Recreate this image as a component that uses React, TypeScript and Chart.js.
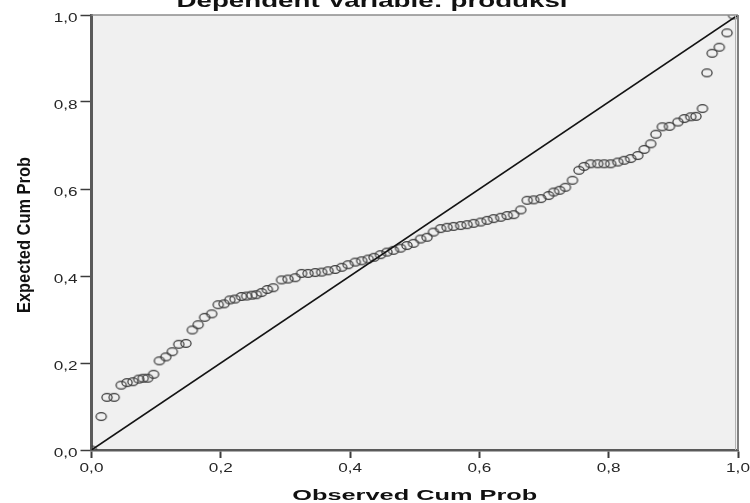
import React, { useEffect, useRef } from "react";
import { Chart, registerables } from "chart.js";

Chart.register(...registerables);

// Observed cumulative probability (x)
const OBSERVED = [
  0.000, 0.015, 0.024, 0.035, 0.046, 0.055, 0.064, 0.073, 0.080, 0.087,
  0.096, 0.105, 0.115, 0.125, 0.135, 0.146, 0.156, 0.165, 0.175, 0.186,
  0.196, 0.205, 0.214, 0.222, 0.232, 0.240, 0.248, 0.255, 0.263, 0.272,
  0.281, 0.294, 0.304, 0.315, 0.325, 0.335, 0.346, 0.356, 0.366, 0.377,
  0.387, 0.397, 0.408, 0.418, 0.428, 0.437, 0.447, 0.457, 0.467, 0.478,
  0.488, 0.498, 0.509, 0.519, 0.529, 0.540, 0.550, 0.560, 0.571, 0.581,
  0.591, 0.602, 0.612, 0.622, 0.633, 0.643, 0.653, 0.664, 0.674, 0.684,
  0.695, 0.707, 0.715, 0.724, 0.733, 0.744, 0.754, 0.762, 0.772, 0.783,
  0.793, 0.803, 0.814, 0.824, 0.834, 0.845, 0.855, 0.865, 0.873, 0.883,
  0.894, 0.907, 0.917, 0.927, 0.935, 0.945, 0.952, 0.960, 0.971, 0.983,
  0.993,
];

// Expected cumulative probability (y)
const EXPECTED = [
  0.000, 0.077, 0.121, 0.121, 0.149, 0.155, 0.157, 0.163, 0.165, 0.165,
  0.174, 0.205, 0.214, 0.226, 0.243, 0.245, 0.276, 0.288, 0.305, 0.313,
  0.334, 0.336, 0.345, 0.347, 0.353, 0.354, 0.356, 0.357, 0.362, 0.369,
  0.373, 0.391, 0.393, 0.396, 0.406, 0.406, 0.408, 0.409, 0.412, 0.415,
  0.420, 0.426, 0.432, 0.435, 0.439, 0.443, 0.449, 0.455, 0.459, 0.464,
  0.470, 0.475, 0.485, 0.489, 0.501, 0.509, 0.512, 0.514, 0.516, 0.518,
  0.521, 0.524, 0.528, 0.532, 0.535, 0.539, 0.541, 0.552, 0.574, 0.575,
  0.578, 0.585, 0.593, 0.597, 0.604, 0.620, 0.643, 0.652, 0.658, 0.658,
  0.658, 0.658, 0.662, 0.666, 0.670, 0.677, 0.691, 0.704, 0.726, 0.743,
  0.744, 0.754, 0.762, 0.766, 0.767, 0.785, 0.867, 0.912, 0.926, 0.959,
  1.000,
];

// Reference diagonal
const DIAGONAL_X = [0, 1];
const DIAGONAL_Y = [0, 1];

const TICK_VALUES = [0, 0.2, 0.4, 0.6, 0.8, 1.0];
const X_TICK_LABELS = ["0,0", "0,2", "0,4", "0,6", "0,8", "1,0"];
const Y_TICK_LABELS = ["0,0", "0,2", "0,4", "0,6", "0,8", "1,0"];

const TITLE = "Dependent Variable: produksi";
const X_TITLE = "Observed Cum Prob";
const Y_TITLE = "Expected Cum Prob";

function makeMarker(): HTMLCanvasElement {
  const c = document.createElement("canvas");
  c.width = 14;
  c.height = 11;
  const g = c.getContext("2d")!;
  g.strokeStyle = "#3a3a3a";
  g.lineWidth = 1.25;
  g.beginPath();
  g.ellipse(7, 5.5, 5.1, 3.8, 0, 0, Math.PI * 2);
  g.stroke();
  return c;
}

function stretchedText(
  ctx: CanvasRenderingContext2D,
  text: string,
  x: number,
  y: number,
  font: string,
  align: CanvasTextAlign,
  baseline: CanvasTextBaseline,
  targetWidth: number | null,
  sx: number,
  color: string
) {
  ctx.save();
  ctx.font = font;
  const w = ctx.measureText(text).width;
  const scale = targetWidth ? targetWidth / w : sx;
  ctx.translate(x, y);
  ctx.scale(scale, 1);
  ctx.textAlign = align;
  ctx.textBaseline = baseline;
  ctx.fillStyle = color;
  ctx.fillText(text, 0, 0);
  ctx.restore();
}

export default function App() {
  const ref = useRef<HTMLCanvasElement>(null);

  useEffect(() => {
    document.body.style.margin = "0";
    const canvas = ref.current!;
    const marker = makeMarker();

    const decor = {
      id: "decor",
      beforeDraw(chart: any) {
        const { ctx, chartArea: a } = chart;
        ctx.save();
        ctx.fillStyle = "#ffffff";
        ctx.fillRect(0, 0, chart.width, chart.height);
        ctx.fillStyle = "#f0f0f0";
        ctx.fillRect(a.left, a.top, a.right - a.left, a.bottom - a.top);
        ctx.restore();
      },
      afterDraw(chart: any) {
        const { ctx, chartArea: a } = chart;
        const xs = chart.scales.x;
        const ys = chart.scales.y;
        ctx.save();
        // top border
        ctx.strokeStyle = "#8c8c8c";
        ctx.lineWidth = 1.5;
        ctx.beginPath();
        ctx.moveTo(a.left, a.top);
        ctx.lineTo(a.right, a.top);
        ctx.stroke();
        // right border (double gray)
        ctx.strokeStyle = "#b4b4b4";
        ctx.lineWidth = 1;
        ctx.beginPath();
        ctx.moveTo(a.right - 2.5, a.top);
        ctx.lineTo(a.right - 2.5, a.bottom);
        ctx.stroke();
        ctx.strokeStyle = "#808080";
        ctx.lineWidth = 2;
        ctx.beginPath();
        ctx.moveTo(a.right, a.top);
        ctx.lineTo(a.right, a.bottom);
        ctx.stroke();
        ctx.restore();

        const tickFont = '13px "Liberation Sans", Arial, sans-serif';
        TICK_VALUES.forEach((v, i) => {
          const px = xs.getPixelForValue(v);
          stretchedText(ctx, X_TICK_LABELS[i], px, a.bottom + 21.5, tickFont, "center", "alphabetic", null, 1.32, "#262626");
        });
        TICK_VALUES.forEach((v, i) => {
          const py = ys.getPixelForValue(v);
          stretchedText(ctx, Y_TICK_LABELS[i], a.left - 14, py + 7, tickFont, "right", "alphabetic", null, 1.32, "#262626");
        });

        // x-axis title
        stretchedText(ctx, X_TITLE, (a.left + a.right) / 2, 500, 'bold 15px "Liberation Sans", Arial, sans-serif', "center", "alphabetic", 245, 1, "#111111");

        // main title (cut off at the top)
        stretchedText(ctx, TITLE, 372, 7, 'bold 18px "Liberation Sans", Arial, sans-serif', "center", "alphabetic", 391, 1, "#111111");

        // y-axis title (rotated, condensed)
        ctx.save();
        ctx.font = 'bold 18px "Liberation Sans", Arial, sans-serif';
        const w = ctx.measureText(Y_TITLE).width;
        ctx.translate(31, 235);
        ctx.rotate(-Math.PI / 2);
        ctx.scale(156 / w, 1);
        ctx.textAlign = "center";
        ctx.textBaseline = "alphabetic";
        ctx.fillStyle = "#111111";
        ctx.fillText(Y_TITLE, 0, -1);
        ctx.restore();
      },
    };

    const points = OBSERVED.map((x, i) => ({ x, y: EXPECTED[i] }));
    const diag = DIAGONAL_X.map((x, i) => ({ x, y: DIAGONAL_Y[i] }));

    const chart = new Chart(canvas, {
      type: "scatter",
      data: {
        datasets: [
          {
            type: "line",
            data: diag,
            borderColor: "#141414",
            borderWidth: 1.6,
            pointRadius: 0,
            fill: false,
            clip: 0,
          } as any,
          {
            data: points,
            pointStyle: marker as any,
            pointRadius: 5,
            clip: 0,
          } as any,
        ],
      },
      options: {
        responsive: false,
        animation: false,
        devicePixelRatio: 1,
        layout: { padding: { top: 15, right: 12, left: 0, bottom: 0 } },
        plugins: {
          legend: { display: false },
          tooltip: { enabled: false },
          title: { display: false },
        },
        scales: {
          x: {
            type: "linear",
            min: 0,
            max: 1,
            ticks: { stepSize: 0.2, display: false },
            grid: {
              drawOnChartArea: false,
              drawTicks: true,
              tickLength: 8,
              tickColor: "#3c3c3c",
              tickWidth: 2,
            },
            border: { display: true, color: "#5a5a5a", width: 2.5 },
            afterFit: (s: any) => {
              s.height = 53;
            },
          },
          y: {
            type: "linear",
            min: 0,
            max: 1,
            ticks: { stepSize: 0.2, display: false },
            grid: {
              drawOnChartArea: false,
              drawTicks: true,
              tickLength: 11,
              tickColor: "#3c3c3c",
              tickWidth: 1.5,
            },
            border: { display: true, color: "#5a5a5a", width: 3 },
            afterFit: (s: any) => {
              s.width = 91.5;
            },
          },
        },
      },
      plugins: [decor],
    });

    return () => chart.destroy();
  }, []);

  return <canvas ref={ref} width={750} height={503} style={{ display: "block" }} />;
}
